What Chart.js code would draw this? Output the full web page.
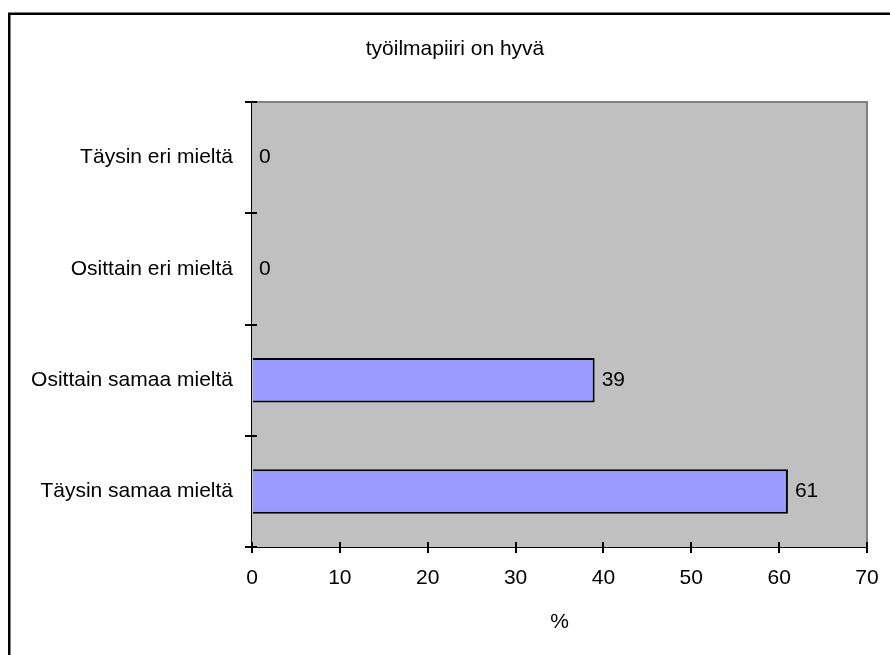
<!DOCTYPE html>
<html>
<head>
<meta charset="utf-8">
<script src="https://cdn.jsdelivr.net/npm/chart.js@4/dist/chart.umd.min.js"></script>
<style>
  html, body { margin: 0; padding: 0; background: #fff; }
  #wrap { position: relative; width: 890px; height: 655px; }
</style>
</head>
<body>
<div id="wrap"><canvas id="c" width="890" height="655"></canvas></div>
<script>
// Survey answers (percent) for the statement "työilmapiiri on hyvä"
const chartTitle = 'työilmapiiri on hyvä';
const categories = ['Täysin eri mieltä', 'Osittain eri mieltä', 'Osittain samaa mieltä', 'Täysin samaa mieltä'];
const percentages = [0, 0, 39, 61];
const xTicks = [0, 10, 20, 30, 40, 50, 60, 70];
const xAxisTitle = '%';

const FONT = '"Liberation Sans", Arial, sans-serif';

// Grey plot background, outer frame, title, inward tick marks and value labels
const decorations = {
  id: 'decorations',
  beforeDatasetsDraw(chart) {
    const { ctx, chartArea: a } = chart;
    ctx.save();
    ctx.fillStyle = '#C0C0C0';
    ctx.fillRect(a.left, a.top, a.right - a.left, a.bottom - a.top);
    ctx.strokeStyle = '#808080';
    ctx.lineWidth = 2;
    ctx.beginPath();
    ctx.moveTo(a.left, a.top);
    ctx.lineTo(a.right, a.top);
    ctx.lineTo(a.right, a.bottom);
    ctx.stroke();
    ctx.restore();
  },
  afterDraw(chart) {
    const { ctx, chartArea: a, scales } = chart;
    ctx.save();
    // outer frame
    ctx.strokeStyle = '#000';
    ctx.lineWidth = 2.5;
    ctx.strokeRect(9.25, 13.75, 1000, 1000);
    // title
    ctx.fillStyle = '#000';
    ctx.font = '21px ' + FONT;
    ctx.textAlign = 'center';
    ctx.textBaseline = 'middle';
    ctx.fillText(chartTitle, 455, 49);
    // tick marks reaching into the plot area
    ctx.strokeStyle = '#000';
    ctx.lineWidth = 2;
    ctx.beginPath();
    const n = categories.length;
    for (let i = 0; i <= n; i++) {
      const y = Math.round(a.top + i * (a.bottom - a.top) / n);
      ctx.moveTo(a.left, y);
      ctx.lineTo(a.left + 5, y);
    }
    xTicks.forEach(v => {
      const x = Math.round(scales.x.getPixelForValue(v));
      ctx.moveTo(x, a.bottom);
      ctx.lineTo(x, a.bottom - 5);
    });
    ctx.stroke();
    // value labels
    const meta = chart.getDatasetMeta(0);
    ctx.textAlign = 'left';
    ctx.textBaseline = 'middle';
    meta.data.forEach((bar, i) => {
      ctx.fillText(String(percentages[i]), bar.x + 7, bar.y);
    });
    ctx.restore();
  }
};

new Chart(document.getElementById('c'), {
  type: 'bar',
  data: {
    labels: categories,
    datasets: [{
      data: percentages,
      backgroundColor: '#9999FF',
      borderColor: '#000',
      borderWidth: 2,
      borderSkipped: 'start',
      categoryPercentage: 1,
      barPercentage: 0.4
    }]
  },
  options: {
    indexAxis: 'y',
    responsive: false,
    animation: false,
    devicePixelRatio: 1,
    layout: { padding: { top: 102, right: 23, left: 0, bottom: 0 } },
    plugins: {
      legend: { display: false },
      title: { display: false },
      tooltip: { enabled: false }
    },
    scales: {
      x: {
        type: 'linear',
        min: 0,
        max: 70,
        afterBuildTicks(scale) { scale.ticks = xTicks.map(v => ({ value: v })); },
        afterFit(scale) {
          scale.height = 108;
          scale.paddingLeft = 0;
          scale.paddingRight = 0;
        },
        grid: { drawOnChartArea: false, drawTicks: true, tickLength: 6, color: '#000', lineWidth: 2 },
        border: { display: true, color: '#000', width: 2 },
        ticks: { color: '#000', font: { family: FONT, size: 21 }, padding: 13, maxRotation: 0 },
        title: { display: true, text: xAxisTitle, color: '#000', font: { family: FONT, size: 21 }, padding: { top: 0, bottom: 20 } }
      },
      y: {
        type: 'category',
        afterFit(scale) {
          scale.width = 252;
          scale.paddingTop = 0;
          scale.paddingBottom = 0;
        },
        grid: { drawOnChartArea: false, drawTicks: true, tickLength: 7, color: '#000', lineWidth: 2, offset: true },
        border: { display: true, color: '#000', width: 2 },
        ticks: { color: '#000', font: { family: FONT, size: 21 }, padding: 12 }
      }
    }
  },
  plugins: [decorations]
});
</script>
</body>
</html>
